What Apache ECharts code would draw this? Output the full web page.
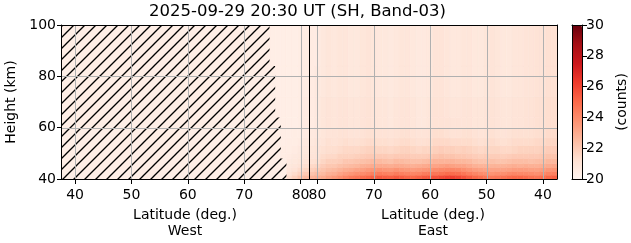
<!DOCTYPE html>
<html><head><meta charset="utf-8">
<script src="https://cdn.jsdelivr.net/npm/echarts@6/dist/echarts.min.js"></script>
<style>html,body{margin:0;padding:0;background:#fff}#c{width:631px;height:243px}</style>
</head><body><div id="c"></div>
<script>
const titleText = '2025-09-29 20:30 UT (SH, Band-03)';
// x is an along-track coordinate u (0..88): West lat = u + 37.5 (u <= 42.5), East lat = 125.5 - u (u >= 45.5)
const xTickPos = [2.5, 12.5, 22.5, 32.5, 42.5, 45.5, 55.5, 65.5, 75.5, 85.5];
const xTickLabels = ['40', '50', '60', '70', '80', '80', '70', '60', '50', '40'];
const yTicks = [40, 60, 80, 100];
const cbarTicks = [20, 22, 24, 26, 28, 30];
const dividerPos = 44;
const colEdges = [36,37,38,39,40,41,42,43,44,45,46,47,48,49,50,51,52,53,54,55,56,57,58,59,60,61,62,63,64,65,66,67,68,69,70,71,72,73,74,75,76,77,78,79,80,81,82,83,84,85,86,87,88];
const heightEdges = [40, 41.5, 43, 44.5, 46, 48, 50, 53, 56, 60, 64, 72, 84, 100];
// counts, one row per height band (bottom to top), one value per column
const row00 = [20.4,20.4,20.4,20.6,21.4,21.8,22.2,22.5,22.7,22.9, 23.0,23.3,23.5,23.8,24.1,24.4,24.6,24.8,25.0,25.2,25.4,25.3,25.2,25.4,25.3,25.1,25.0,25.2,25.4,25.5,25.6,25.8,26.0,26.1,25.9,25.6,25.3,25.0,24.8,24.6,24.5,24.6,24.7,24.9,25.0,25.0,24.9,24.7,24.6,24.8,25.0,25.2];
const row01 = [20.4,20.4,20.4,20.6,21.1,21.4,21.7,22.0,22.2,22.4, 22.5,22.8,22.9,23.2,23.4,23.6,23.8,23.9,24.1,24.3,24.4,24.3,24.2,24.4,24.3,24.2,24.1,24.2,24.4,24.5,24.6,24.7,24.9,24.9,24.8,24.6,24.3,24.1,23.9,23.8,23.7,23.8,23.8,24.0,24.1,24.0,24.0,23.9,23.8,24.0,24.2,24.3];
const row02 = [20.4,20.4,20.4,20.5,20.9,21.1,21.4,21.6,21.8,22.0, 22.2,22.4,22.5,22.7,22.9,23.0,23.2,23.3,23.5,23.6,23.7,23.6,23.5,23.7,23.6,23.5,23.4,23.5,23.6,23.7,23.9,24.0,24.1,24.1,24.0,23.8,23.6,23.4,23.3,23.2,23.2,23.2,23.2,23.3,23.4,23.4,23.4,23.3,23.3,23.4,23.6,23.7];
const row03 = [20.4,20.4,20.4,20.5,20.8,20.9,21.1,21.3,21.5,21.6, 21.9,22.1,22.1,22.3,22.4,22.5,22.6,22.8,22.9,23.0,23.0,23.0,22.9,23.0,23.0,22.9,22.8,22.9,23.0,23.1,23.2,23.3,23.4,23.3,23.2,23.2,23.0,22.8,22.7,22.7,22.7,22.7,22.7,22.8,22.9,22.8,22.9,22.8,22.8,22.9,23.0,23.1];
const row04 = [20.4,20.4,20.4,20.5,20.7,20.8,20.9,21.1,21.2,21.3, 21.6,21.8,21.8,21.9,22.1,22.1,22.2,22.3,22.4,22.5,22.5,22.4,22.3,22.5,22.5,22.4,22.3,22.3,22.4,22.5,22.7,22.7,22.7,22.7,22.6,22.6,22.5,22.3,22.2,22.2,22.3,22.2,22.2,22.3,22.4,22.4,22.4,22.3,22.4,22.4,22.6,22.6];
const row05 = [20.4,20.4,20.4,20.5,20.6,20.7,20.8,20.9,21.0,21.1, 21.4,21.5,21.5,21.7,21.7,21.7,21.8,21.9,22.0,22.0,22.0,22.0,21.9,22.0,22.0,22.0,21.9,21.9,21.9,22.0,22.2,22.3,22.2,22.2,22.1,22.1,22.0,21.9,21.8,21.9,21.9,21.9,21.8,21.9,22.0,22.0,22.0,22.0,22.0,22.1,22.2,22.2];
const row06 = [20.4,20.4,20.4,20.5,20.5,20.6,20.7,20.8,20.9,21.0, 21.2,21.3,21.3,21.4,21.5,21.5,21.5,21.6,21.7,21.7,21.6,21.6,21.5,21.6,21.7,21.7,21.6,21.5,21.6,21.6,21.8,21.9,21.8,21.8,21.7,21.8,21.7,21.6,21.5,21.6,21.6,21.6,21.5,21.5,21.6,21.7,21.7,21.7,21.7,21.8,21.9,21.9];
const row07 = [20.4,20.4,20.4,20.4,20.5,20.5,20.6,20.7,20.8,20.9, 21.0,21.2,21.1,21.2,21.3,21.2,21.2,21.3,21.4,21.4,21.3,21.3,21.2,21.3,21.4,21.4,21.3,21.2,21.2,21.3,21.5,21.5,21.5,21.4,21.4,21.4,21.4,21.3,21.2,21.3,21.4,21.3,21.2,21.3,21.4,21.4,21.4,21.4,21.5,21.5,21.6,21.6];
const row08 = [20.4,20.4,20.4,20.4,20.4,20.5,20.5,20.6,20.7,20.8, 20.9,21.0,21.0,21.1,21.1,21.0,21.0,21.1,21.2,21.2,21.1,21.1,21.0,21.1,21.2,21.2,21.1,21.0,21.0,21.1,21.3,21.3,21.2,21.1,21.1,21.2,21.2,21.1,21.0,21.1,21.2,21.1,21.0,21.1,21.2,21.2,21.2,21.2,21.3,21.3,21.4,21.4];
const row09 = [20.4,20.4,20.4,20.4,20.4,20.4,20.5,20.6,20.6,20.7, 20.9,21.0,20.9,21.0,21.0,20.9,20.9,21.0,21.1,21.0,20.9,20.9,20.8,20.9,21.0,21.0,20.9,20.8,20.8,20.9,21.1,21.1,21.1,21.0,21.0,21.0,21.0,20.9,20.9,21.0,21.1,21.0,20.9,20.9,21.0,21.0,21.1,21.1,21.2,21.2,21.3,21.3];
const row10 = [20.4,20.4,20.4,20.4,20.4,20.4,20.5,20.6,20.6,20.7, 20.9,21.0,20.9,21.0,21.0,20.9,20.9,21.0,21.1,21.0,20.9,20.9,20.8,20.9,21.0,21.0,20.9,20.8,20.8,20.9,21.1,21.1,21.0,20.9,20.9,21.0,21.0,20.9,20.9,21.0,21.1,21.0,20.9,20.9,21.0,21.0,21.1,21.1,21.2,21.2,21.3,21.3];
const row11 = [20.4,20.4,20.4,20.4,20.4,20.4,20.5,20.5,20.6,20.7, 20.8,20.9,20.8,20.9,20.9,20.8,20.8,20.9,21.0,20.9,20.8,20.8,20.7,20.8,20.9,20.9,20.8,20.7,20.7,20.8,21.0,21.0,20.9,20.8,20.8,20.9,20.9,20.8,20.8,20.9,21.0,20.9,20.8,20.8,20.9,20.9,21.0,21.0,21.1,21.1,21.2,21.2];
const row12 = [20.4,20.4,20.4,20.4,20.4,20.4,20.5,20.5,20.6,20.6, 20.8,20.9,20.8,20.9,20.9,20.8,20.8,20.9,21.0,20.9,20.8,20.8,20.7,20.8,20.9,20.9,20.8,20.7,20.7,20.8,21.0,21.0,20.9,20.8,20.8,20.9,20.9,20.8,20.8,20.9,21.0,20.9,20.8,20.8,20.9,20.9,21.0,21.0,21.1,21.1,21.2,21.2];
const rows = [row00,row01,row02,row03,row04,row05,row06,row07,row08,row09,row10,row11,row12];
// no-data (hatched) region outline, in (u, km)
const hatchU = [0, 37, 37, 38, 38, 39, 39, 40, 40, 0];
const hatchH = [100, 100, 84, 84, 64, 64, 48, 48, 40, 40];

const reds = ['#fff5f0','#fee0d2','#fcbba1','#fc9272','#fb6a4a','#ef3b2c','#cb181d','#a50f15','#67000d'];
const FONT = 'DejaVu Sans';

const cells = [];
for (let r = 0; r < rows.length; r++) {
  for (let c = 0; c < rows[r].length; c++) {
    cells.push([colEdges[c], colEdges[c + 1], heightEdges[r], heightEdges[r + 1], rows[r][c]]);
  }
}
const gridLines = [];
xTickPos.forEach(p => gridLines.push([p, yTicks[0], p, yTicks[yTicks.length - 1]]));
yTicks.slice(1, -1).forEach(h => gridLines.push([0, h, 88, h]));

// hatch pattern
const S = 11;
const pc = document.createElement('canvas');
pc.width = S; pc.height = S;
const g = pc.getContext('2d');
g.fillStyle = '#feeee6'; g.fillRect(0, 0, S, S);
g.strokeStyle = '#000'; g.lineWidth = 1.35; g.beginPath();
[0, S, 2 * S].forEach(c => { g.moveTo(-1, c + 1); g.lineTo(S + 1, c - S - 1); });
g.stroke();

const chart = echarts.init(document.getElementById('c'), null, {renderer: 'canvas'});
const crisp = v => Math.round(v) + 0.5;
const axisLineStyle = {show: true, onZero: false, lineStyle: {color: '#000', width: 1}};
chart.setOption({
  animation: false,
  backgroundColor: '#fff',
  textStyle: {fontFamily: FONT},
  title: {text: titleText, left: 149, top: 3, padding: 0,
    textStyle: {fontFamily: FONT, fontSize: 16.5, fontWeight: 'normal', color: '#000'}},
  grid: [
    {left: 61, top: 25, width: 496, height: 154, outerBoundsMode: 'none', containLabel: false},
    {left: 572, top: 25, width: 10, height: 154, outerBoundsMode: 'none', containLabel: false}
  ],
  xAxis: [
    {type: 'value', gridIndex: 0, min: 0, max: 88, position: 'bottom', z: 10,
      axisLine: axisLineStyle, splitLine: {show: false},
      axisTick: {show: true, length: 5, customValues: xTickPos, lineStyle: {color: '#000'}},
      axisLabel: {show: true, customValues: xTickPos, margin: 9, fontSize: 14, color: '#000', fontFamily: FONT,
        formatter: v => { const i = xTickPos.indexOf(v); return i >= 0 ? xTickLabels[i] : ''; }}},
    {type: 'value', gridIndex: 0, min: 0, max: 88, position: 'top', z: 10,
      axisLine: axisLineStyle, axisTick: {show: false}, axisLabel: {show: false}, splitLine: {show: false}},
    {type: 'value', gridIndex: 1, min: 0, max: 1, position: 'bottom', z: 10,
      axisLine: axisLineStyle, axisTick: {show: false}, axisLabel: {show: false}, splitLine: {show: false}},
    {type: 'value', gridIndex: 1, min: 0, max: 1, position: 'top', z: 10,
      axisLine: axisLineStyle, axisTick: {show: false}, axisLabel: {show: false}, splitLine: {show: false}}
  ],
  yAxis: [
    {type: 'value', gridIndex: 0, min: 40, max: 100, interval: 20, position: 'left', z: 10,
      axisLine: axisLineStyle, splitLine: {show: false},
      axisTick: {show: true, length: 4, lineStyle: {color: '#000'}},
      axisLabel: {fontSize: 14, color: '#000', margin: 5, fontFamily: FONT},
      name: 'Height (km)', nameLocation: 'middle', nameGap: 42, nameRotate: 90,
      nameTextStyle: {fontSize: 14, color: '#000', fontFamily: FONT}},
    {type: 'value', gridIndex: 0, min: 40, max: 100, position: 'right', z: 10,
      axisLine: axisLineStyle, axisTick: {show: false}, axisLabel: {show: false}, splitLine: {show: false}},
    {type: 'value', gridIndex: 1, min: 20, max: 30, interval: 2, position: 'right', z: 10,
      axisLine: axisLineStyle, splitLine: {show: false},
      axisTick: {show: true, length: 5, lineStyle: {color: '#000'}},
      axisLabel: {fontSize: 14, color: '#000', margin: 4, fontFamily: FONT},
      name: '(counts)', nameLocation: 'middle', nameGap: 33, nameRotate: 90,
      nameTextStyle: {fontSize: 14, color: '#000', fontFamily: FONT}},
    {type: 'value', gridIndex: 1, min: 20, max: 30, position: 'left', z: 10,
      axisLine: axisLineStyle, axisTick: {show: false}, axisLabel: {show: false}, splitLine: {show: false}}
  ],
  visualMap: {
    type: 'continuous', min: 20, max: 30, dimension: 4, seriesIndex: 0,
    calculable: false, hoverLink: false, orient: 'vertical',
    left: 572, top: 25, padding: 0, itemWidth: 10, itemHeight: 154,
    inRange: {color: reds}, text: null, showLabel: false
  },
  series: [
    {type: 'custom', name: 'counts', xAxisIndex: 0, yAxisIndex: 0, clip: true, z: 2,
      encode: {x: [0, 1], y: [2, 3]}, data: cells,
      renderItem: (params, api) => {
        const p0 = api.coord([api.value(0), api.value(3)]);
        const p1 = api.coord([api.value(1), api.value(2)]);
        const col = api.visual('color');
        return {type: 'rect', shape: {x: p0[0], y: p0[1], width: p1[0] - p0[0], height: p1[1] - p0[1]},
          style: {fill: col, stroke: col, lineWidth: 0.6}};
      }},
    {type: 'custom', name: 'nodata', xAxisIndex: 0, yAxisIndex: 0, clip: true, z: 3,
      data: [[0, 40]], encode: {x: 0, y: 1},
      renderItem: (params, api) => {
        const pts = hatchU.map((u, i) => api.coord([u, hatchH[i]]));
        return {type: 'polygon', shape: {points: pts},
          style: {fill: {image: pc, repeat: 'repeat'}, stroke: null}};
      }},
    {type: 'custom', name: 'grid', xAxisIndex: 0, yAxisIndex: 0, clip: true, z: 4,
      data: gridLines, encode: {x: [0, 2], y: [1, 3]},
      renderItem: (params, api) => {
        const a = api.coord([api.value(0), api.value(1)]);
        const b = api.coord([api.value(2), api.value(3)]);
        const vertical = api.value(0) === api.value(2);
        const shape = vertical ? {x1: crisp(a[0]), y1: a[1], x2: crisp(b[0]), y2: b[1]}
                               : {x1: a[0], y1: crisp(a[1]), x2: b[0], y2: crisp(b[1])};
        return {type: 'line', shape, style: {stroke: '#b0b0b0', lineWidth: 1}};
      }},
    {type: 'custom', name: 'divider', xAxisIndex: 0, yAxisIndex: 0, clip: true, z: 5,
      data: [[dividerPos, yTicks[0], dividerPos, yTicks[yTicks.length - 1]]], encode: {x: [0, 2], y: [1, 3]},
      renderItem: (params, api) => {
        const a = api.coord([api.value(0), api.value(1)]);
        const b = api.coord([api.value(2), api.value(3)]);
        return {type: 'line', shape: {x1: crisp(a[0]), y1: a[1], x2: crisp(b[0]), y2: b[1]},
          style: {stroke: '#000', lineWidth: 1}};
      }}
  ]
});
// axis titles of the two halves (West ends at the divider, East starts there)
const westC = chart.convertToPixel({xAxisIndex: 0}, (0 + dividerPos) / 2);
const eastC = chart.convertToPixel({xAxisIndex: 0}, (dividerPos + 88) / 2);
chart.setOption({
  graphic: [
    {type: 'text', x: westC, y: 207, style: {text: 'Latitude (deg.)\nWest', align: 'center', verticalAlign: 'top',
      font: '14px "DejaVu Sans"', lineHeight: 16, fill: '#000'}},
    {type: 'text', x: eastC, y: 207, style: {text: 'Latitude (deg.)\nEast', align: 'center', verticalAlign: 'top',
      font: '14px "DejaVu Sans"', lineHeight: 16, fill: '#000'}}
  ]
});
</script></body></html>
